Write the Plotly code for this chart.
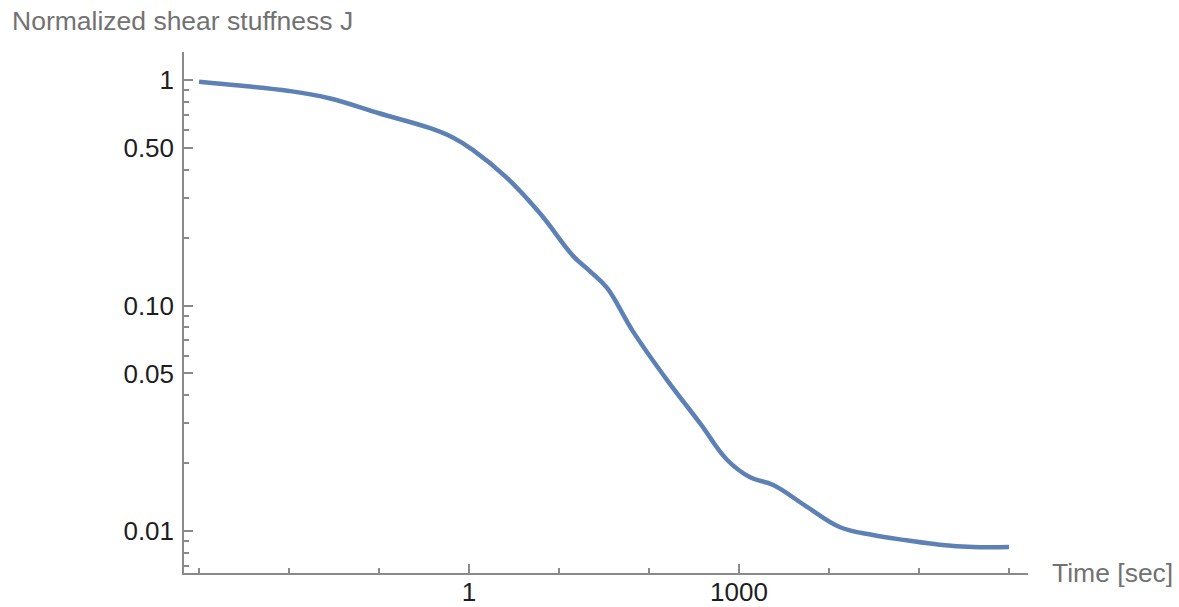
import plotly.graph_objects as go

# Data (log-log curve)
time_sec = [0.001, 0.003, 0.01, 0.028, 0.1, 0.37, 0.66, 1.1, 2.6, 6.2, 14.3, 22, 34,
            66, 158, 370, 735, 1330, 2400, 5700, 13300, 30800, 73000, 170000, 400000, 1000000]
stiffness_J = [0.983, 0.943, 0.894, 0.830, 0.712, 0.611, 0.556, 0.490, 0.370, 0.255, 0.166,
               0.142, 0.120, 0.077, 0.0468, 0.030, 0.0207, 0.0173, 0.0160, 0.0128,
               0.0104, 0.0096, 0.0091, 0.0087, 0.0085, 0.0085]

x_major_vals = [1, 1000]
x_major_text = ["1", "1000"]
x_minor_vals = [0.001, 0.01, 0.1, 10, 100, 10000, 100000, 1000000]

y_major_vals = [0.01, 0.05, 0.1, 0.5, 1]
y_major_text = ["0.01", "0.05", "0.10", "0.50", "1"]
y_minor_vals = [0.007, 0.008, 0.009, 0.02, 0.03, 0.04, 0.06, 0.07, 0.08, 0.09,
                0.2, 0.3, 0.4, 0.6, 0.7, 0.8, 0.9]

AXIS_COLOR = "#8a8a8a"
LABEL_COLOR = "#727272"
FONT_FAMILY = "Liberation Sans, Arial, sans-serif"
TICK_FONT = dict(family=FONT_FAMILY, size=26, color="#1e1e1e")

fig = go.Figure()
fig.add_trace(go.Scatter(
    x=time_sec, y=stiffness_J, mode="lines",
    line=dict(color="#5e81b5", width=4.5, shape="spline", smoothing=1.1),
    hoverinfo="x+y", showlegend=False,
))

fig.update_layout(
    width=1179, height=607,
    margin=dict(l=184, r=151, t=52, b=34),
    paper_bgcolor="white", plot_bgcolor="white",
    xaxis=dict(
        type="log", range=[-3.167, 6.211], automargin=False,
        showgrid=False, zeroline=False,
        showline=True, linecolor=AXIS_COLOR, linewidth=1.5,
        tickmode="array", tickvals=x_major_vals, ticktext=x_major_text,
        ticks="inside", ticklen=9, tickwidth=1.5, tickcolor=AXIS_COLOR,
        tickfont=TICK_FONT, ticklabelstandoff=-5,
        minor=dict(tickmode="array", tickvals=x_minor_vals, ticks="inside",
                   ticklen=5, tickwidth=1.5, tickcolor=AXIS_COLOR, showgrid=False),
    ),
    yaxis=dict(
        type="log", range=[-2.186, 0.124], automargin=False,
        showgrid=False, zeroline=False,
        showline=True, linecolor=AXIS_COLOR, linewidth=1.5,
        tickmode="array", tickvals=y_major_vals, ticktext=y_major_text,
        ticks="inside", ticklen=9, tickwidth=1.5, tickcolor=AXIS_COLOR,
        tickfont=TICK_FONT, ticklabelstandoff=3,
        minor=dict(tickmode="array", tickvals=y_minor_vals, ticks="inside",
                   ticklen=5, tickwidth=1.5, tickcolor=AXIS_COLOR, showgrid=False),
    ),
    annotations=[
        dict(text="Normalized shear stuffness J", xref="paper", yref="paper",
             x=-0.2062, y=1.0595, xanchor="left", yanchor="middle", showarrow=False,
             font=dict(family=FONT_FAMILY, size=26.5, color=LABEL_COLOR)),
        dict(text="Time [sec]", xref="paper", yref="paper",
             x=1.026, y=0.0, xanchor="left", yanchor="middle", showarrow=False,
             font=dict(family=FONT_FAMILY, size=26.5, color=LABEL_COLOR)),
    ],
)

fig.write_html("out.html")
